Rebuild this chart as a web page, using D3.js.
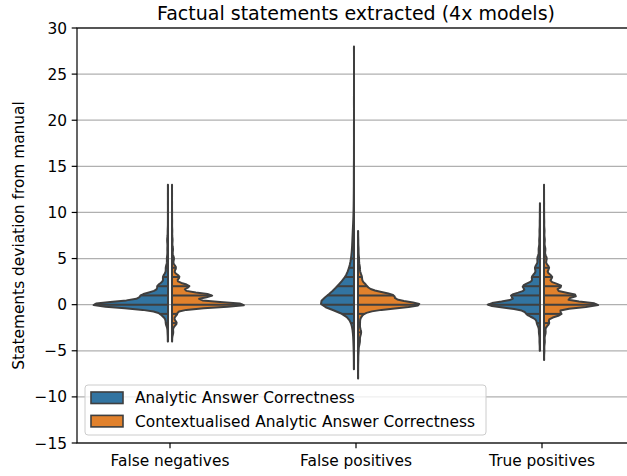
<!DOCTYPE html>
<html>
<head>
<meta charset="utf-8">
<script src="https://cdn.jsdelivr.net/npm/d3@7"></script>
<style>
body { margin: 0; background: #fff; }
svg { display: block; overflow: hidden; }
text { font-family: "DejaVu Sans", sans-serif; fill: #000; }
</style>
</head>
<body>
<svg width="627" height="476"></svg>
<script>
var categories = ["False negatives", "False positives", "True positives"];
var hues = ["Analytic Answer Correctness", "Contextualised Analytic Answer Correctness"];
var colors = ["#3274a1", "#e1812c"];
var yTicks = [-15, -10, -5, 0, 5, 10, 15, 20, 25, 30];

// deviation from manual count -> number of statements with that deviation
var fnAnalyticVals = [-4, -3, -2, -1, 0, 1, 2, 3, 4, 5, 6, 7, 8, 9, 10, 11, 12, 13];
var fnAnalyticCounts = [2, 4, 20, 60, 700, 240, 95, 45, 20, 10, 6, 8, 3, 1, 1, 1, 1, 1];
var fnContextVals = [-4, -3, -2, -1, 0, 1, 2, 3, 4, 5, 6, 7, 8, 9, 10, 11, 12, 13];
var fnContextCounts = [3, 25, 95, 100, 1480, 810, 350, 150, 80, 40, 20, 12, 6, 3, 2, 1, 1, 1];

var fpAnalyticVals = [-7, -6, -5, -4, -3, -2, -1, 0, 1, 2, 3, 4, 5, 6, 7, 8, 9, 10, 11, 12, 13, 14, 15, 17, 19, 22, 28];
var fpAnalyticCounts = [2, 2, 4, 8, 13, 32, 92, 525, 330, 215, 105, 61, 37, 26, 21, 16, 10, 6, 4, 3, 2, 2, 2, 1, 1, 1, 1];
var fpContextVals = [-8, -7, -6, -5, -4, -3, -2, -1, 0, 1, 2, 3, 4, 5, 6, 7, 8];
var fpContextCounts = [1, 1, 2, 4, 13, 22, 13, 29, 440, 242, 57, 26, 13, 7, 4, 2, 1];

var tpAnalyticVals = [-5, -4, -3, -2, -1, 0, 1, 2, 3, 4, 5, 6, 7, 8, 9, 10, 11];
var tpAnalyticCounts = [6, 12, 24, 68, 295, 1200, 640, 385, 180, 113, 60, 30, 18, 12, 6, 4, 2];
var tpContextVals = [-6, -5, -4, -3, -2, -1, 0, 1, 2, 3, 4, 5, 6, 7, 8, 9, 10, 11, 12, 13];
var tpContextCounts = [7, 17, 37, 74, 230, 780, 2480, 1460, 780, 367, 230, 124, 62, 37, 25, 12, 7, 5, 3, 2];

var groups = [
  { cat: 0, hue: 0, vals: fnAnalyticVals, counts: fnAnalyticCounts },
  { cat: 0, hue: 1, vals: fnContextVals, counts: fnContextCounts },
  { cat: 1, hue: 0, vals: fpAnalyticVals, counts: fpAnalyticCounts },
  { cat: 1, hue: 1, vals: fpContextVals, counts: fpContextCounts },
  { cat: 2, hue: 0, vals: tpAnalyticVals, counts: tpAnalyticCounts },
  { cat: 2, hue: 1, vals: tpContextVals, counts: tpContextCounts }
];

var svg = d3.select("svg"),
  margin = { left: 77, top: 28, right: 635, bottom: 443 };

var x = d3.scaleBand().domain(categories).range([margin.left, margin.right]);
var y = d3.scaleLinear().domain([-15, 30]).range([margin.bottom, margin.top]);

// gaussian kde, scott's rule, cut = 0, 100 grid points (like seaborn)
function kde(g) {
  var n = d3.sum(g.counts);
  var mean = d3.sum(g.vals, function(v, i) { return v * g.counts[i]; }) / n;
  var ss = d3.sum(g.vals, function(v, i) { return g.counts[i] * (v - mean) * (v - mean); });
  var bw = Math.sqrt(ss / (n - 1)) * Math.pow(n, -0.2);
  var lo = d3.min(g.vals), hi = d3.max(g.vals);
  g.grid = d3.range(100).map(function(i) { return lo + (hi - lo) * i / 99; });
  g.dens = g.grid.map(function(t) {
    return d3.sum(g.vals, function(v, i) {
      var z = (t - v) / bw;
      return g.counts[i] * Math.exp(-0.5 * z * z);
    }) / (n * bw * Math.sqrt(2 * Math.PI));
  });
}
groups.forEach(kde);

function densAt(g, v) {
  var i = d3.bisectRight(g.grid, v);
  if (i <= 0) return g.dens[0];
  if (i >= g.grid.length) return g.dens[g.grid.length - 1];
  var t = (v - g.grid[i - 1]) / (g.grid[i] - g.grid[i - 1]);
  return g.dens[i - 1] + t * (g.dens[i] - g.dens[i - 1]);
}

var maxD = d3.max(groups, function(g) { return d3.max(g.dens); });
var w = d3.scaleLinear().domain([0, maxD]).range([0, x.bandwidth() * 0.4]);
var gap = 2;

// grid
svg.append("g").selectAll("line")
  .data(yTicks)
  .enter().append("line")
  .attr("x1", margin.left).attr("x2", margin.right)
  .attr("y1", function(d) { return y(d); }).attr("y2", function(d) { return y(d); })
  .attr("stroke", "#b0b0b0").attr("stroke-width", 1.2);

var lineColor = "#3f3f3f";

groups.forEach(function(g) {
  var cx = x(categories[g.cat]) + x.bandwidth() / 2;
  var side = g.hue === 0 ? -1 : 1;
  var base = cx + side * gap;
  var pts = g.grid.map(function(t, i) { return [t, g.dens[i]]; });
  var area = d3.area()
    .x0(base)
    .x1(function(d) { return base + side * w(d[1]); })
    .y(function(d) { return y(d[0]); });
  svg.append("path")
    .attr("d", area(pts))
    .attr("fill", colors[g.hue])
    .attr("stroke", lineColor)
    .attr("stroke-width", 2)
    .attr("stroke-linejoin", "round");

  svg.append("g").selectAll("line")
    .data(g.vals.filter(function(v, i) { return g.counts[i] > 0; }))
    .enter().append("line")
    .attr("x1", base)
    .attr("x2", function(v) { return base + side * w(densAt(g, v)); })
    .attr("y1", function(v) { return y(v); })
    .attr("y2", function(v) { return y(v); })
    .attr("stroke", lineColor)
    .attr("stroke-width", 2);
});

// spines
svg.append("rect")
  .attr("x", margin.left).attr("y", margin.top)
  .attr("width", margin.right - margin.left).attr("height", margin.bottom - margin.top)
  .attr("fill", "none").attr("stroke", "#000").attr("stroke-width", 1.2);

// y axis
var yAxis = svg.append("g");
yTicks.forEach(function(t) {
  yAxis.append("line")
    .attr("x1", margin.left - 5.3).attr("x2", margin.left)
    .attr("y1", y(t)).attr("y2", y(t))
    .attr("stroke", "#000").attr("stroke-width", 1.2);
  yAxis.append("text")
    .attr("x", margin.left - 10).attr("y", y(t))
    .attr("dy", "0.36em")
    .attr("text-anchor", "end")
    .style("font-size", "15.4px")
    .text(String(t).replace("-", "\u2212"));
});

// x axis
var xAxis = svg.append("g");
categories.forEach(function(c) {
  var cx = x(c) + x.bandwidth() / 2;
  xAxis.append("line")
    .attr("x1", cx).attr("x2", cx)
    .attr("y1", margin.bottom).attr("y2", margin.bottom + 5.3)
    .attr("stroke", "#000").attr("stroke-width", 1.2);
  xAxis.append("text")
    .attr("x", cx).attr("y", 466)
    .attr("text-anchor", "middle")
    .style("font-size", "15.4px")
    .text(c);
});

svg.append("text")
  .attr("transform", "translate(24," + ((margin.top + margin.bottom) / 2) + ") rotate(-90)")
  .attr("text-anchor", "middle")
  .style("font-size", "15.4px")
  .text("Statements deviation from manual");

svg.append("text")
  .attr("x", (margin.left + margin.right) / 2).attr("y", 19.5)
  .attr("text-anchor", "middle")
  .style("font-size", "19px")
  .text("Factual statements extracted (4x models)");

// legend
var leg = svg.append("g");
leg.append("rect")
  .attr("x", 85).attr("y", 385).attr("width", 401).attr("height", 50)
  .attr("rx", 3)
  .attr("fill", "#fff").attr("fill-opacity", 0.8)
  .attr("stroke", "#cccccc").attr("stroke-width", 1);
hues.forEach(function(h, i) {
  leg.append("rect")
    .attr("x", 91).attr("y", 392 + i * 23.4).attr("width", 32).attr("height", 11.5)
    .attr("fill", colors[i]).attr("stroke", lineColor).attr("stroke-width", 1.6);
  leg.append("text")
    .attr("x", 135).attr("y", 403.3 + i * 23.4)
    .style("font-size", "15.4px")
    .text(h);
});
</script>
</body>
</html>
